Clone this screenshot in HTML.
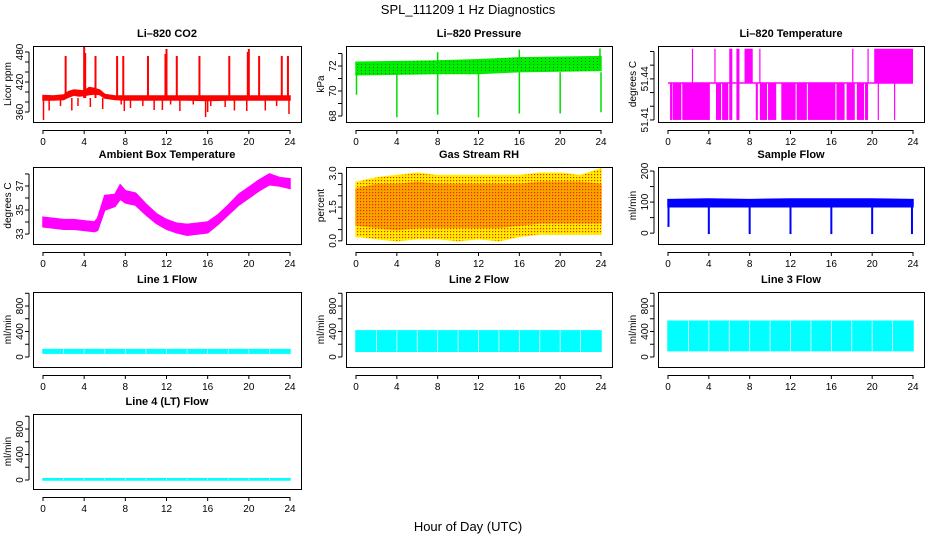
<!DOCTYPE html>
<html><head><meta charset="utf-8"><style>
html,body{margin:0;padding:0;background:#fff}
svg{display:block}
text{font-family:"Liberation Sans",Arial,sans-serif;fill:#000}
.tk{font-size:10px}
.ti{font-size:11px;font-weight:bold}
</style></head><body>
<svg id="c" width="936" height="540" viewBox="0 0 936 540">
<text x="468" y="14" text-anchor="middle" font-size="13">SPL_111209  1 Hz Diagnostics</text>
<text x="468" y="531" text-anchor="middle" font-size="13">Hour of Day (UTC)</text>
</svg>
<script>
// ---------- data ----------
const hourTicks = [0,4,8,12,16,20,24];
// CO2 envelope
const co2T  = [0,1,2,2.5,3,3.5,4,4.5,5,5.5,6,7,8,10,12,14,16,18,20,22,24];
const co2Lo = [384,384,385,390,394,392,393,395,396,395,388,385,384,384,384,384,383,384,384,384,384];
const co2Hi = [393,392,394,401,404,403,402,409,407,404,395,392,392,392,392,392,392,392,392,392,392];
const co2UpT = [2.2,4.0,4.1,5.1,7.2,7.8,10.2,11.9,12.0,13.0,15.2,18.1,19.9,20.0,21.0,23.2,23.8];
const co2UpV = [472,490,478,472,472,472,472,476,486,472,472,472,480,486,472,472,472];
const co2DnT = [0.05,0.6,1.7,2.8,3.4,4.6,5.8,7.6,7.9,8.5,9.7,10.8,11.6,12.4,13.3,14.6,15.8,16.0,16.3,17.7,18.6,19.8,21.6,22.7,23.9];
const co2DnV = [344,363,372,363,372,370,366,375,362,368,372,364,364,375,362,375,350,360,372,370,363,362,363,372,356];
// Pressure envelope
const prT  = [0,4,8,12,16,20,24];
const prLo = [71.3,71.35,71.4,71.4,71.55,71.6,71.65];
const prHi = [72.3,72.35,72.4,72.5,72.65,72.7,72.75];
const prDipT = [0.05,4.0,8.0,12.0,16.0,20.0,24.0];
const prDipV = [69.7,67.9,68.1,67.9,68.2,68.2,68.3];
const prUpT = [8.0,16.0,23.9];
const prUpV = [73.1,73.3,73.4];
// Li-820 temperature: levels and blocks
const tLevels = [51.41,51.437,51.462];
const tBlkS = [0.2,0.45,1.4,4.7,5.3,6.0,6.7,7.5,8.6,9.0,9.8,11.1,12.6,13.7,16.5,17.5,18.5,19.3,20.2];
const tBlkE = [0.4,1.3,4.1,5.2,5.9,6.3,7.0,8.3,8.8,9.7,10.6,12.5,13.6,16.4,17.3,18.3,19.2,19.6,24.0];
const tBlkLo= [0,0,0,0,0,0,0,1,0,0,0,0,0,0,0,0,0,0,1];
const tBlkHi= [1,1,1,1,1,2,2,2,1,1,1,1,1,1,1,1,1,1,2];
const tLineT = [2.4,4.6,9.0,18.1,19.6,20.6,22.2];
const tLineLo= [1,1,1,1,1,0,0];
const tLineHi= [2,2,2,2,2,1,1];
// Ambient box temperature
const ambT  = [0,1,2,3,4,5,5.3,6,7,7.5,8,9,10,11,12,13,14,15,16,17,18,19,20,21,22,23,24];
const ambLo = [33.6,33.5,33.4,33.4,33.3,33.2,33.3,35.0,35.3,35.9,35.6,35.4,34.6,33.9,33.4,33.1,32.9,33.0,33.1,33.8,34.6,35.4,36.0,36.6,37.1,37.0,36.8];
const ambHi = [34.4,34.3,34.2,34.2,34.1,34.0,34.3,36.2,36.3,37.1,36.6,36.4,35.5,34.7,34.2,33.9,33.8,33.9,34.0,34.6,35.4,36.3,36.9,37.5,38.0,37.7,37.6];
// Gas stream RH
const rhT  = [0,2,4,6,8,10,12,14,16,18,20,22,24];
const rhLo = [0.7,0.6,0.5,0.6,0.6,0.6,0.6,0.6,0.7,0.8,0.8,0.8,0.8];
const rhHi = [2.3,2.5,2.5,2.6,2.5,2.5,2.5,2.5,2.5,2.6,2.6,2.6,2.5];
const rhMax= [2.6,2.8,2.9,3.0,2.9,2.9,2.9,2.9,2.9,3.0,3.0,2.9,3.2];
const rhMin= [0.2,0.1,0.0,0.1,0.1,0.0,0.1,0.0,0.2,0.3,0.3,0.3,0.3];
// Sample flow
const sfT  = [0,4,8,12,16,20,24];
const sfLo = [85,85,85,85,85,85,85];
const sfHi = [108,110,108,110,110,110,108];
const sfDipT = [0.05,4.0,8.0,12.0,16.0,20.0,23.9];
const sfDipV = [20,-3,-3,-3,-3,-3,-3];
// Line flows
const lnGapT = [2,4,6,8,10,12,14,16,18,20,22];
const l1Lo=60, l1Hi=115;
const l2Lo=90, l2Hi=410;
const l3Lo=100, l3Hi=560;
const l4Lo=0, l4Hi=20;

// ---------- drawing ----------
const svg=document.getElementById('c');
const NS='http://www.w3.org/2000/svg';
function el(tag,attrs,parent){const e=document.createElementNS(NS,tag);for(const k in attrs)e.setAttribute(k,attrs[k]);(parent||svg).appendChild(e);return e;}
const cols=[[33,301],[346,612],[658,924]];
const rows=[[46,122],[167,244],[292,367],[414,489]];
function panel(col,row,title,ylab,ymin,ymax,ticks,labels,name){
  const [L,R]=cols[col],[T,B]=rows[row];
  const g=el('g',{});
  
  
  const X=h=>L+10+h/24*(R-L-21);
  const Y=v=>B-(v-ymin)/(ymax-ymin)*(B-T);
  const t=el('text',{x:(L+R)/2,y:T-9,'text-anchor':'middle',class:'ti'},g);t.textContent=title;
  
  const yl=el('text',{x:0,y:0,'text-anchor':'middle',class:'tk',transform:`translate(${L-22},${(T+B)/2}) rotate(-90)`},g);yl.textContent=ylab;
  
  const data=el('g',{},g);
  
  const ax=el('g',{stroke:'#000','stroke-width':1,fill:'none'},g);
  
  el('rect',{x:L+.5,y:T+.5,width:R-L,height:B-T},ax);
  el('line',{x1:X(0),x2:X(24),y1:B+8.5,y2:B+8.5},ax);
  hourTicks.forEach(h=>{el('line',{x1:X(h),x2:X(h),y1:B+8,y2:B+12},ax);
    const tt=el('text',{x:X(h),y:B+23,'text-anchor':'middle',class:'tk',stroke:'none'},g);tt.textContent=h;
    });
  el('line',{x1:L-4,x2:L-4,y1:Y(ticks[0]),y2:Y(ticks[ticks.length-1])},ax);
  ticks.forEach(v=>el('line',{x1:L-8,x2:L-4,y1:Y(v),y2:Y(v)},ax));
  labels.forEach(v=>{const tt=el('text',{x:0,y:0,'text-anchor':'middle',class:'tk',transform:`translate(${L-10},${Y(v)}) rotate(-90)`},g);tt.textContent=String(v);
    });
  return {X,Y,data,L,R,T,B};
}
function band(p,ts,lo,hi,color,name){
  let d='M'+ts.map((t,i)=>p.X(t)+','+p.Y(hi[i])).join('L');
  for(let i=ts.length-1;i>=0;i--)d+='L'+p.X(ts[i])+','+p.Y(lo[i]);
  const e=el('path',{d:d+'Z',fill:color,stroke:color,'stroke-width':1.5},p.data);
  
  return e;
}
function vline(p,t,v1,v2,color,w,name){
  const e=el('line',{x1:p.X(t),x2:p.X(t),y1:p.Y(v1),y2:p.Y(v2),stroke:color,'stroke-width':w||1.5},p.data);
  
}
const defs=el('defs',{});

// CO2
let p=panel(0,0,'Li\u2013820 CO2','Licor ppm',340,492,[360,380,400,420,440,460,480],['360','420','480'],'co2');
band(p,co2T,co2Lo,co2Hi,'#ff0000','co2-band');
co2UpT.forEach((t,i)=>vline(p,t,388,co2UpV[i],'#ff0000',2,'co2-spike'));
co2DnT.forEach((t,i)=>vline(p,t,388,co2DnV[i],'#ff0000',1.5,'co2-dip'));

// Pressure
p=panel(1,0,'Li\u2013820 Pressure','kPa',67.52,73.6,[68,69,70,71,72,73],['68','70','72'],'pressure');
band(p,prT,prLo,prHi,'#00ee00','pressure-band');
const pat=el('pattern',{id:'dots',width:4,height:3,patternUnits:'userSpaceOnUse'},defs);
el('rect',{x:1,y:1,width:1,height:1,fill:'#117711'},pat);
band(p,prT,prLo,prHi,'url(#dots)','pressure-dots').setAttribute('stroke','none');
prDipT.forEach((t,i)=>vline(p,t,71.5,prDipV[i],'#00dd00',1.5,'pressure-dip'));
prUpT.forEach((t,i)=>vline(p,t,72,prUpV[i],'#00dd00',1.5,'pressure-spike'));

// Li-820 temperature
p=panel(2,0,'Li\u2013820 Temperature','degrees C',51.4085,51.464,[51.41,51.42,51.43,51.44,51.45,51.46],['51.41','51.44'],'li-temp');
(function(){const e=el('line',{x1:p.X(0),x2:p.X(24),y1:p.Y(tLevels[1]),y2:p.Y(tLevels[1]),stroke:'#ff00ff','stroke-width':1.5},p.data);
})();
tBlkS.forEach((s,i)=>{const x1=p.X(s),x2=p.X(tBlkE[i]),y1=p.Y(tLevels[tBlkHi[i]]),y2=p.Y(tLevels[tBlkLo[i]]);
  const e=el('rect',{x:x1,y:y1,width:x2-x1,height:y2-y1,fill:'#ff00ff'},p.data);
  });
tLineT.forEach((t,i)=>vline(p,t,tLevels[tLineLo[i]],tLevels[tLineHi[i]],'#ff00ff',1.2,'li-temp-jump'));

// Ambient
p=panel(0,1,'Ambient Box Temperature','degrees C',32.17,38.58,[33,34,35,36,37,38],['33','35','37'],'ambient');
band(p,ambT,ambLo,ambHi,'#ff00ff','ambient-band');

// RH
p=panel(1,1,'Gas Stream RH','percent',-0.14,3.28,[0,0.5,1,1.5,2,2.5,3],['0.0','1.5','3.0'],'rh');
band(p,rhT,rhMin,rhMax,'#ffee00','rh-outer');
band(p,rhT,rhLo,rhHi,'#f5a500','rh-core');
const pat2=el('pattern',{id:'rdots',width:3,height:3,patternUnits:'userSpaceOnUse'},defs);
el('rect',{x:0,y:0,width:1.2,height:1.2,fill:'#ff2000'},pat2);
band(p,rhT,rhMin,rhMax,'url(#rdots)','rh-dots').setAttribute('stroke','none');

// Sample flow
p=panel(2,1,'Sample Flow','ml/min',-35,213,[0,50,100,150,200],['0','100','200'],'sample-flow');
band(p,sfT,sfLo,sfHi,'#0000ff','sample-flow-band');
sfDipT.forEach((t,i)=>vline(p,t,90,sfDipV[i],'#0000ff',2,'sample-flow-dip'));

// Line flows
function flow(col,row,title,lo,hi,name,ymin,ymax){
  const q=panel(col,row,title,'ml/min',ymin,ymax,[0,200,400,600,800,1000],['0','400','800'],name);
  band(q,[0,24],[lo,lo],[hi,hi],'#00ffff',name+'-band');
  lnGapT.forEach(t=>vline(q,t,lo,hi,'#ffffff',0.8,name+'-gap'));
}
flow(0,2,'Line 1 Flow',l1Lo,l1Hi,'line1-flow',-157,1020);
flow(1,2,'Line 2 Flow',l2Lo,l2Hi,'line2-flow',-157,1020);
flow(2,2,'Line 3 Flow',l3Lo,l3Hi,'line3-flow',-157,1020);
flow(0,3,'Line 4 (LT) Flow',l4Lo,l4Hi,'line4-flow',-141,1035);
</script>
</body></html>
